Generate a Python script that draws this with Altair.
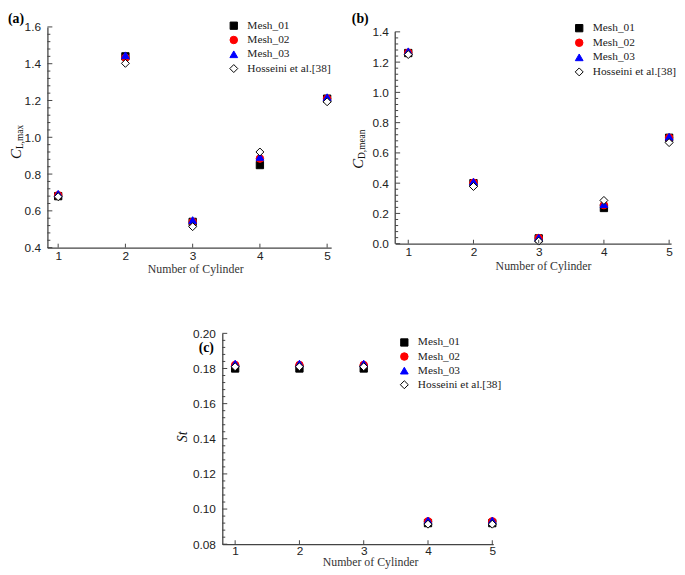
import altair as alt
import pandas as pd

cylinders = [1, 2, 3, 4, 5]
series = ["Mesh_01", "Mesh_02", "Mesh_03", "Hosseini et al.[38]"]
shapes = ["square", "circle", "triangle-up", "diamond"]
fills = ["#000000", "#ff0000", "#0000ff", "#ffffff"]
strokes = ["#000000", "#ff0000", "#0000ff", "#000000"]
sizes = [55, 65, 75, 85]

# (a) C_L,max
cl_mesh01 = [0.68, 1.44, 0.54, 0.849, 1.21]
cl_mesh02 = [0.685, 1.432, 0.54, 0.884, 1.21]
cl_mesh03 = [0.693, 1.446, 0.55, 0.893, 1.218]
cl_hoss = [0.677, 1.402, 0.514, 0.92, 1.193]

# (b) C_D,mean
cd_mesh01 = [1.26, 0.40, 0.035, 0.236, 0.70]
cd_mesh02 = [1.262, 0.403, 0.037, 0.255, 0.70]
cd_mesh03 = [1.272, 0.41, 0.04, 0.262, 0.707]
cd_hoss = [1.25, 0.378, 0.017, 0.286, 0.668]

# (c) St
st_mesh01 = [0.180, 0.180, 0.180, 0.092, 0.092]
st_mesh02 = [0.182, 0.182, 0.182, 0.093, 0.093]
st_mesh03 = [0.1828, 0.1828, 0.1828, 0.0935, 0.0935]
st_hoss = [0.181, 0.181, 0.181, 0.0914, 0.0914]

ticks_a = [0.4, 0.6, 0.8, 1.0, 1.2, 1.4, 1.6]
ticks_b = [0.0, 0.2, 0.4, 0.6, 0.8, 1.0, 1.2, 1.4]
ticks_c = [0.08, 0.10, 0.12, 0.14, 0.16, 0.18, 0.20]

panel_labels = ["(a)", "(b)", "(c)"]
x_title = "Number of Cylinder"

AXC = "#444444"
SERIF = "Liberation Serif"
SANS = "Liberation Sans"


def panel(vals, major, ytop, fmt, xdom, w, h, leg, label, label_xy, ytitle, title_y,
          xlab_pad=3):
    rows = []
    for s, v in zip(series, vals):
        for c, y in zip(cylinders, v):
            rows.append({"cyl": c, "val": y, "series": s})
    df = pd.DataFrame(rows)
    step = (major[1] - major[0]) / 5
    minor = []
    for m in major[:-1]:
        for k in range(1, 5):
            minor.append(round(m + k * step, 6))
    own_line = ytop > major[-1]
    ydom = [major[0], ytop]

    legend = alt.Legend(
        orient="none", legendX=leg[0], legendY=leg[1], title=None,
        labelFont=SERIF, labelFontSize=11.5, labelColor="#222222",
        labelOffset=8, rowPadding=leg[2], padding=0, symbolStrokeWidth=1,
    )
    xscale = alt.Scale(domain=xdom, nice=False, zero=False)
    yscale = alt.Scale(domain=ydom, nice=False, zero=False)
    x_axis = alt.Axis(
        values=cylinders, format="d", title=x_title, grid=False,
        ticks=False, tickSize=0, domainColor=AXC, domainWidth=1.3,
        labelFont=SANS, labelFontSize=12, labelColor="#222222",
        labelPadding=xlab_pad, labelFlush=False, labelOverlap=False,
        titleFont=SERIF, titleFontSize=12, titleFontWeight="normal",
        titleColor="#333333", titleBaseline="alphabetic",
        titleX=150, titleY=title_y)
    y_axis = alt.Axis(
        values=major, format=fmt, title=None, grid=False,
        ticks=False, tickSize=0, domain=not own_line, domainColor=AXC, domainWidth=1.3,
        labelFont=SANS, labelFontSize=12, labelColor="#222222",
        labelPadding=7, labelFlush=False, labelOverlap=False)

    pts = alt.Chart(df).mark_point(opacity=1, strokeWidth=1).encode(
        x=alt.X("cyl:Q", scale=xscale, axis=x_axis),
        y=alt.Y("val:Q", scale=yscale, axis=y_axis),
        shape=alt.Shape("series:N", scale=alt.Scale(domain=series, range=shapes), legend=legend),
        fill=alt.Fill("series:N", scale=alt.Scale(domain=series, range=fills), legend=legend),
        stroke=alt.Stroke("series:N", scale=alt.Scale(domain=series, range=strokes), legend=legend),
        size=alt.Size("series:N", scale=alt.Scale(domain=series, range=sizes), legend=legend),
    )

    ymaj = alt.Chart(pd.DataFrame({"val": major})).mark_rule(color=AXC, strokeWidth=1).encode(
        y=alt.Y("val:Q", scale=yscale, axis=y_axis), x=alt.value(0), x2=alt.value(5))
    ymin = alt.Chart(pd.DataFrame({"val": minor})).mark_rule(color=AXC, strokeWidth=1).encode(
        y=alt.Y("val:Q", scale=yscale, axis=y_axis), x=alt.value(0), x2=alt.value(3))
    xmaj = alt.Chart(pd.DataFrame({"cyl": cylinders})).mark_rule(color=AXC, strokeWidth=1).encode(
        x=alt.X("cyl:Q", scale=xscale, axis=x_axis), y=alt.value(h), y2=alt.value(h - 4))

    one = pd.DataFrame({"k": [0]})
    lab = alt.Chart(one).mark_text(font=SERIF, fontSize=14, fontWeight="bold", align="left",
                                   baseline="top", color="#000000").encode(
        x=alt.value(label_xy[0]), y=alt.value(label_xy[1]), text=alt.value(label))

    layers = [pts, ymin, ymaj, xmaj, lab]
    if own_line:
        line = alt.Chart(pd.DataFrame({"val": [major[0]], "top": [major[-1]]})).mark_rule(
            color=AXC, strokeWidth=1.3).encode(
            y=alt.Y("val:Q", scale=yscale, axis=y_axis), y2="top:Q", x=alt.value(0))
        layers.append(line)
    main, sub, tx, ty = ytitle
    if sub:
        t1 = alt.Chart(one).mark_text(font=SERIF, fontSize=15, fontStyle="italic", angle=270,
                                      align="right", baseline="alphabetic", color="#111111").encode(
            x=alt.value(tx), y=alt.value(ty), text=alt.value(main))
        t2 = alt.Chart(one).mark_text(font=SERIF, fontSize=9.5, angle=270,
                                      align="left", baseline="alphabetic", color="#111111").encode(
            x=alt.value(tx + 2), y=alt.value(ty), text=alt.value(sub))
        layers += [t1, t2]
    else:
        t1 = alt.Chart(one).mark_text(font=SERIF, fontSize=14, fontStyle="italic", angle=270,
                                      align="center", baseline="alphabetic", color="#111111").encode(
            x=alt.value(tx), y=alt.value(ty), text=alt.value(main))
        layers += [t1]
    return alt.layer(*layers).properties(width=w, height=h)


pa = panel([cl_mesh01, cl_mesh02, cl_mesh03, cl_hoss], ticks_a, 1.6, ".1f", [0.84, 5.06], 288, 224,
           (183.4, -7, 1.5), panel_labels[0], (-40, -15), ("C", "L,max", -27, 124), 25)
pb = panel([cd_mesh01, cd_mesh02, cd_mesh03, cd_hoss], ticks_b, 1.4 * 220 / 215, ".1f",
           [0.80, 5.03], 280, 220,
           (181, -4.5, 1.8), panel_labels[1], (-44, -15), ("C", "D,mean", -33, 134), 26)
pc = panel([st_mesh01, st_mesh02, st_mesh03, st_hoss], ticks_c, 0.20, ".2f", [0.80, 5.015], 275, 214,
           (179, 3.5, 1.3), panel_labels[2], (-24, 8), ("St", None, -36, 105), 22, xlab_pad=1)

indep = dict(shape="independent", fill="independent", stroke="independent", size="independent")
top = alt.hconcat(pa, pb, spacing=18).resolve_scale(**indep)
chart = alt.vconcat(top, pc, spacing=54, center=True).resolve_scale(**indep).configure_view(
    stroke=None).properties(padding=0)

chart.save("out.html", embed_options={"renderer": "svg", "actions": False})
